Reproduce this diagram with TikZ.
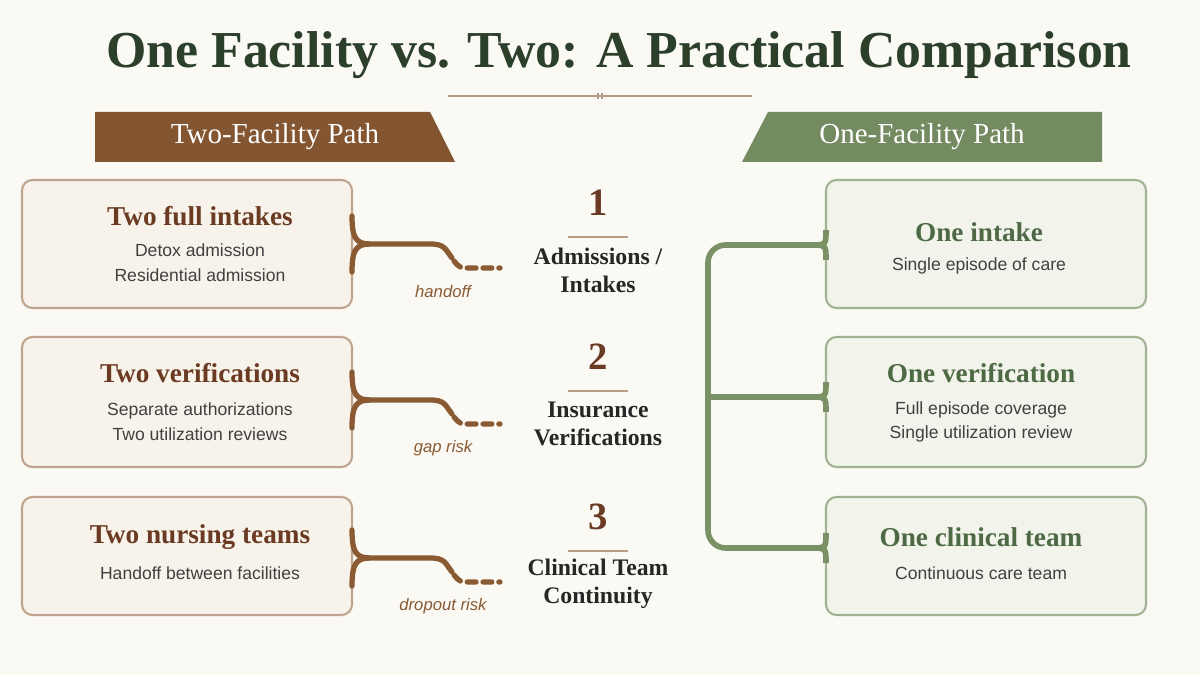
\documentclass[tikz,border=0pt]{standalone}
\usepackage{fontspec}
\setmainfont{Liberation Serif}
\setsansfont{Liberation Sans}
\begin{document}
\begin{tikzpicture}[x=0.02cm,y=-0.02cm,
  brown/.style={draw=brn!55,line width=1.2pt,fill=boxbg,rounded corners=6pt},
  green/.style={draw=grn!70,line width=1.2pt,fill=boxbgg,rounded corners=6pt},
  btitle/.style={font=\fontsize{15.5}{17}\selectfont\bfseries,text=brnd},
  gtitle/.style={font=\fontsize{15.5}{17}\selectfont\bfseries,text=grnd},
  sub/.style={font=\sffamily\fontsize{10}{14}\selectfont,text=black!75,align=center},
  lab/.style={font=\fontsize{13.5}{16}\selectfont\bfseries,text=black!85,align=center},
  num/.style={font=\fontsize{22}{24}\selectfont\bfseries,text=brnd},
  note/.style={font=\sffamily\itshape\fontsize{9.5}{11}\selectfont,text=brn},
  bcon/.style={draw=brn,line width=3pt,line cap=round},
  gcon/.style={draw=grn,line width=3.2pt,rounded corners=10pt}]
\definecolor{brn}{HTML}{8A5A33}
\definecolor{brnd}{HTML}{6B3A22}
\definecolor{grn}{HTML}{7A9166}
\definecolor{grnd}{HTML}{4E6A45}
\definecolor{boxbg}{HTML}{F8F3EA}
\definecolor{boxbgg}{HTML}{F2F4EC}
\definecolor{bg}{HTML}{FAF9F4}
\definecolor{ttl}{HTML}{2B3F2B}
\fill[bg] (0,0) rectangle (1200,675);
\useasboundingbox (0,0) rectangle (1200,675);
\node[font=\fontsize{29.5}{32}\selectfont,text=ttl] (title) at (619,55) {\textbf{One Facility vs. Two: A Practical Comparison}};
\draw[brn!60,line width=0.8pt] (448,96) -- (752,96);
\draw[brn!60,line width=0.6pt] (598,93) -- (598,99) (602,93) -- (602,99);
% banners
\fill[brn!95!black] (95,112) -- (430,112) -- (455,162) -- (95,162) -- cycle;
\node[font=\fontsize{16.5}{18}\selectfont,text=white] (bl) at (275,137) {Two-Facility Path};
\fill[grn!95!black] (768,112) -- (1102,112) -- (1102,162) -- (742,162) -- cycle;
\node[font=\fontsize{16.5}{18}\selectfont,text=white] (br) at (922,137) {One-Facility Path};
% left boxes
\draw[brown] (22,180) rectangle (352,308);
\draw[brown] (22,337) rectangle (352,467);
\draw[brown] (22,497) rectangle (352,615);
\node[btitle] (l1) at (200,216) {Two full intakes};
\node[sub] (l1s) at (200,263) {Detox admission\\Residential admission};
\node[btitle] (l2) at (200,373) {Two verifications};
\node[sub] (l2s) at (200,422) {Separate authorizations\\Two utilization reviews};
\node[btitle] (l3) at (200,537) {Two nursing teams};
\node[sub] (l3s) at (200,573) {Handoff between facilities};
% right boxes
\draw[green] (826,180) rectangle (1146,308);
\draw[green] (826,337) rectangle (1146,467);
\draw[green] (826,497) rectangle (1146,615);
\node[gtitle] (r1) at (979,232) {One intake};
\node[sub] (r1s) at (979,266) {Single episode of care};
\node[gtitle] (r2) at (981,373) {One verification};
\node[sub] (r2s) at (981,422) {Full episode coverage\\Single utilization review};
\node[gtitle] (r3) at (981,537) {One clinical team};
\node[sub] (r3s) at (981,573) {Continuous care team};
% centre
\foreach \n/\y/\t in {1/203/{Admissions /\\Intakes},2/357/{Insurance\\Verifications},3/517/{Clinical Team\\Continuity}}{
  \node[num] (n\n) at (598,\y) {\n};
  \draw[brn!60,line width=0.8pt] (568,\y+34) -- (628,\y+34);
  \node[lab] (t\n) at (598,\y+67) {\t};
}
% left connectors
\foreach \y/\t in {244/handoff,400/gap risk,558/dropout risk}{
  \draw[bcon] (352,\y-28) .. controls (352,\y-6) and (356,\y) .. (370,\y)
     .. controls (356,\y) and (352,\y+6) .. (352,\y+28);
  \draw[bcon] (368,\y) -- (430,\y) .. controls (445,\y) and (445,\y+5) .. (452,\y+14);
  \draw[bcon,dash pattern=on 5pt off 4pt] (454,\y+17) .. controls (460,\y+24) .. (470,\y+24) -- (500,\y+24);
  \node[note] at (443,\y+48) {\t};
}
% right connector
\draw[gcon] (812,245) -- (708,245) -- (708,548) -- (812,548);
\draw[gcon,rounded corners=0pt] (708,397) -- (812,397);
\draw[grn,line width=3.2pt] (810,397) .. controls (826,397) .. (826,382) (810,397) .. controls (826,397) .. (826,412);
\draw[grn,line width=3.2pt] (810,245) .. controls (826,245) .. (826,230) (810,245) .. controls (826,245) .. (826,260);
\draw[grn,line width=3.2pt] (810,548) .. controls (826,548) .. (826,533) (810,548) .. controls (826,548) .. (826,563);
\end{tikzpicture}
\end{document}
